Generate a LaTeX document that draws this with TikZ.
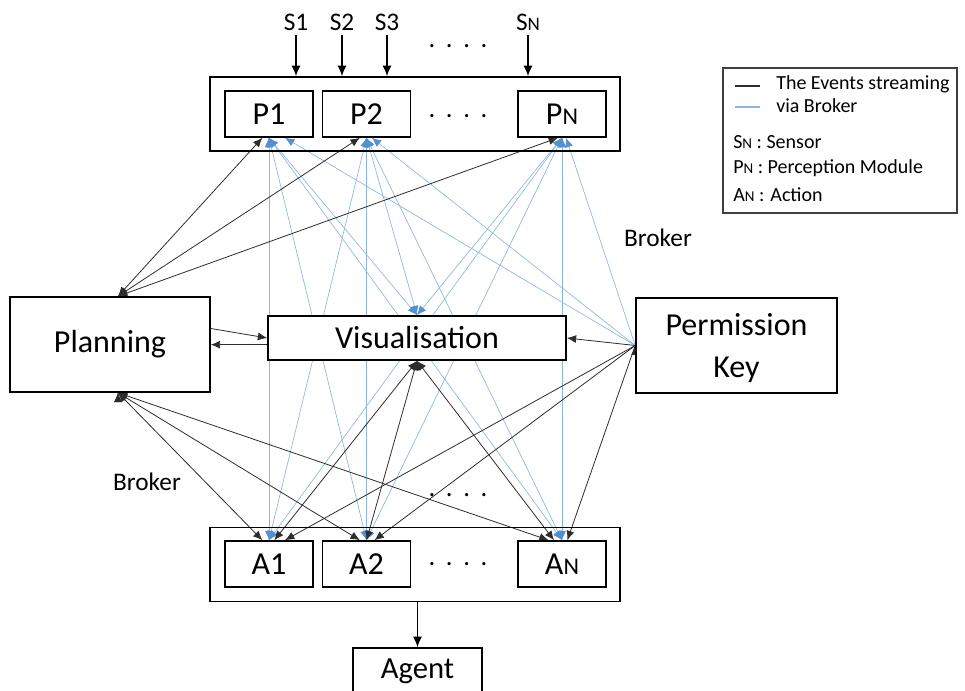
\documentclass[tikz,border=0pt]{standalone}
\usepackage{fontspec}
\setmainfont{Carlito}
\usetikzlibrary{arrows.meta}
\pgfdeclarelayer{bg}
\pgfsetlayers{bg,main}
\definecolor{brokerblue}{RGB}{140,182,226}
\definecolor{tipblue}{RGB}{80,145,210}
\definecolor{evtgray}{RGB}{45,45,45}
\newcommand{\sN}{\scalebox{0.75}{N}}

\begin{document}
\begin{tikzpicture}
		[x=0.75pt, y=-0.75pt, >={Latex[length=7pt,width=6pt]},
		box/.style = {draw, line width=1.2pt, fill=white, inner sep=0pt, font=\fontsize{24}{31}\selectfont},
		mod/.style = {box, minimum width=66pt, minimum height=34.5pt},
		rowbox/.style = {draw, line width=1.2pt, minimum width=307.5pt, minimum height=55.5pt},
		evt/.style = {evtgray, line width=0.6pt},
		brk/.style = {brokerblue, line width=0.5pt, >={Latex[length=7pt,width=6pt,color=tipblue]}},
		feed/.style = {->, line width=1.3pt, >={Latex[length=8pt,width=7pt]}},
		lbl/.style = {font=\fontsize{19}{22}\selectfont},
		dots/.style = {font=\fontsize{20}{24}\selectfont},
		leg/.style = {anchor=west, inner sep=0pt, font=\fontsize{15}{18}\selectfont}]
		\useasboundingbox (0,0) rectangle (965,691);

		\node[rowbox] (pg) at (415,114) {};
		\node[mod] (p1) at (269,114) {P1};
		\node[mod] (p2) at (366.5,114) {P2};
		\node[mod] (pn) at (562,114) {P\sN};
		\node[dots] (pdots) at (458,116) {.\hspace{8pt}.\hspace{8pt}.\hspace{8pt}.};

		\node[lbl] (s1) at (296,22) {S1};
		\node[lbl] (s2) at (342,22) {S2};
		\node[lbl] (s3) at (387,22) {S3};
		\node[lbl] (sn) at (528,22) {S\sN};
		\node[dots] (sdots) at (458,46) {.\hspace{8pt}.\hspace{8pt}.\hspace{8pt}.};

		\node[box, minimum width=150pt, minimum height=71.25pt] (plan) at (110,344.5) {Planning};
		\node[box, minimum width=223.5pt, minimum height=33pt] (vis) at (417,338) {Visualisation};
		\node[box, minimum width=150.75pt, minimum height=71.25pt, align=center, text depth=-6pt] (key) at (736.5,345.5) {Permission\\Key};

		\node[rowbox] (ag) at (415,564.5) {};
		\node[mod] (a1) at (269,564) {A1};
		\node[mod] (a2) at (366.5,564) {A2};
		\node[mod] (an) at (562,564) {A\sN};
		\node[dots] (adots) at (458,564) {.\hspace{8pt}.\hspace{8pt}.\hspace{8pt}.};
		\node[dots] (mdots) at (458,495) {.\hspace{8pt}.\hspace{8pt}.\hspace{8pt}.};

		\node[box, minimum width=96.75pt, minimum height=34.5pt, font=\fontsize{23}{28}\selectfont] (agent) at (417.5,671) {Agent};

		\node[lbl] (brkr) at (658,238) {Broker};
		\node[lbl] (brkl) at (147,482) {Broker};

		\node[draw=black!75, line width=0.8pt, minimum width=175.5pt, minimum height=108.75pt] (legend) at (840,140.5) {};
		\draw[evtgray, line width=1.5pt] (735,86) -- (760,86);
		\draw[brokerblue, line width=1.5pt] (735,107) -- (760,107);
		\node[leg] (l1) at (776,84) {The Events streaming};
		\node[leg] (l2) at (776,106) {via Broker};
		\node[leg] (l3) at (733,142) {S\sN\ :\ Sensor};
		\node[leg] (l4) at (733,168) {P\sN\ :\ Perception Module};
		\node[leg] (l5) at (733,195) {A\sN\ : Action};

		\draw[feed] (s1) -- (s1 |- pg.north);
		\draw[feed] (s2) -- (s2 |- pg.north);
		\draw[feed] (s3) -- (s3 |- pg.north);
		\draw[feed] (sn) -- (sn |- pg.north);
		\draw[feed] (agent |- ag.south) -- (agent.north);

		\begin{pgfonlayer}{bg}
		\draw[brk, <->] (p1.south) edge (a1.north) edge (a2.north) edge (an.north) edge (vis.north);
		\draw[brk, <->] (p2.south) edge (a1.north) edge (a2.north) edge (an.north) edge (vis.north);
		\draw[brk, <->] (pn.south) edge (a1.north) edge (a2.north) edge (an.north) edge (vis.north);
		\draw[brk, <-] ([xshift=12pt]p1.south) -- (key.west);
		\draw[brk, <-] ([xshift=4pt]p2.south) -- (key.west);
		\draw[brk, <-] ([xshift=3pt]pn.south) -- (key.west);

		\draw[evt, <->] ([xshift=6pt]plan.north) edge ([xshift=-5pt]p1.south) edge ([xshift=-5pt]p2.south) edge ([xshift=-3pt]pn.south);
		\draw[evt, <->] ([xshift=6pt]plan.south) edge ([xshift=-5pt]a1.north) edge ([xshift=-5pt]a2.north) edge ([xshift=-10pt]an.north);
		\draw[evt, ->] ([yshift=12pt]plan.east) -- (vis.west);
		\draw[evt, ->] ([yshift=-5pt]vis.west) -- ([yshift=-5pt]vis.west -| plan.east);
		\draw[evt, ->] (key.west) -- (vis.east);
		\draw[evt, ->] (key.west) edge ([xshift=12pt]a1.north) edge ([xshift=6pt]a2.north) edge ([xshift=4pt]an.north);
		\draw[evt, <->] (vis.south) edge ([xshift=4pt]a1.north) edge (a2.north) edge ([xshift=-6pt]an.north);
		\end{pgfonlayer}
	\end{tikzpicture}
\end{document}
